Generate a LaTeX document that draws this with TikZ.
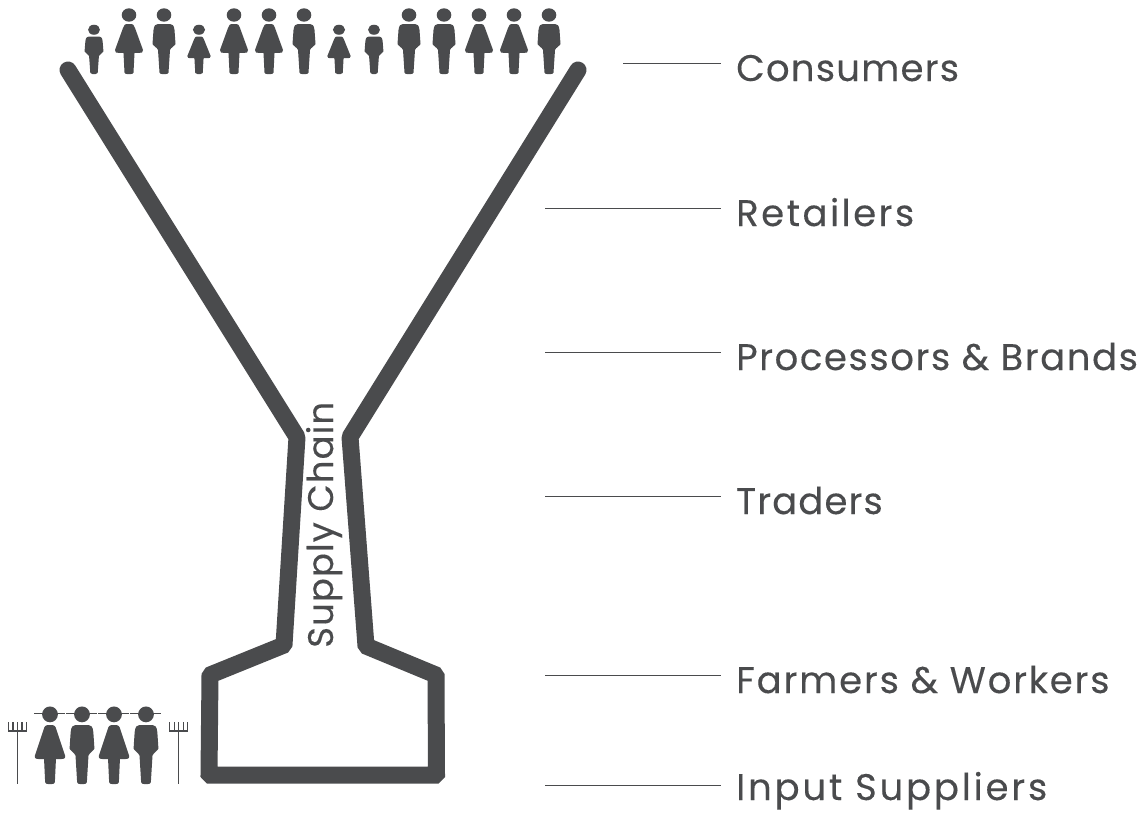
\documentclass[tikz,border=0pt]{standalone}
\usepackage{fontspec}
\setmainfont[FakeBold=0.25]{Poppins}
\newcommand{\spaced}[1]{\addfontfeature{LetterSpace=#1}}
\definecolor{ink}{HTML}{4A4B4D}
\tikzset{
  funnel/.style={draw=ink,line width=17pt,line cap=round,line join=miter,miter limit=10,rounded corners=1.5pt},
  leader/.style={draw=ink,line width=0.9pt},
  stage/.style={anchor=base west,inner sep=0pt,text=ink,font=\fontsize{37}{44}\selectfont},
  fig/.style={fill=ink},
  forkline/.style={draw=ink,line width=1.4pt},
}
\newcommand{\manshape}[4]{\fill[fig,shift={(#1,#2)},xscale=#3,yscale=#4]
  (0,-59) ellipse [x radius=7.3,y radius=6.7]
  (-4.5,-1.5) -- (-6,-24) .. controls (-6.5,-26) and (-10.5,-28) .. (-11.5,-30) -- (-10.5,-44) .. controls (-10,-49) and (-8,-50) .. (-6,-50) -- (6,-50) .. controls (8,-50) and (10,-49) .. (10.5,-44) -- (11.5,-30) .. controls (10.5,-28) and (6.5,-26) .. (6,-24) -- (4.5,-1.5) .. controls (4.3,-0.3) and (3,0) .. (2,0) -- (-2,0) .. controls (-3,0) and (-4.3,-0.3) .. (-4.5,-1.5) -- cycle;}
\newcommand{\womanshape}[4]{\fill[fig,shift={(#1,#2)},xscale=#3,yscale=#4]
  (0,-59) ellipse [x radius=7.3,y radius=6.7]
  (-4.5,-1.5) -- (-5.5,-21) .. controls (-9,-21) and (-11,-21) .. (-13,-21.5) .. controls (-14,-22) and (-14.2,-23) .. (-14,-24) -- (-6,-46) .. controls (-5,-49) and (-4,-50) .. (-2.5,-50) -- (2.5,-50) .. controls (4,-50) and (5,-49) .. (6,-46) -- (14,-24) .. controls (14.2,-23) and (14,-22) .. (13,-21.5) .. controls (11,-21) and (9,-21) .. (5.5,-21) -- (4.5,-1.5) .. controls (4.3,-0.3) and (3,0) .. (2,0) -- (-2,0) .. controls (-3,0) and (-4.3,-0.3) .. (-4.5,-1.5) -- cycle;}
\newcommand{\forkshape}[1]{\begin{scope}[shift={(#1,0)}]
  \draw[forkline] (0,731) -- (0,784);
  \draw[forkline,line width=1.1pt] (-9.5,731) -- (9.5,731);
  \foreach \t in {-9,-4.5,0,4.5,9} \draw[forkline,line width=1.1pt] (\t,722) -- (\t,731);
  \end{scope}}
\begin{document}
\begin{tikzpicture}[x=1pt,y=-1pt]
\useasboundingbox (0,0) rectangle (1145,812);
% funnel
\coordinate (tl) at (68,70);
\coordinate (nl) at (297,437);
\coordinate (sl) at (284,645);
\coordinate (cl) at (210,675);
\coordinate (bl) at (209,775);
\coordinate (br) at (436.5,775);
\coordinate (cr) at (436,675);
\coordinate (sr) at (366,646);
\coordinate (nr) at (350,437);
\coordinate (tr) at (578,70);
\draw[funnel] (tl) -- (nl) -- (sl) -- (cl) -- (bl) -- (br) -- (cr) -- (sr) -- (nr) -- (tr);
% consumers
\manshape{94}{74}{0.82}{0.75}
\womanshape{129}{74}{1}{1}
\manshape{164}{74}{1}{1}
\womanshape{199}{74}{0.83}{0.75}
\womanshape{234}{74}{1}{1}
\womanshape{269}{74}{1}{1}
\manshape{304}{74}{1}{1}
\womanshape{339}{74}{0.83}{0.75}
\manshape{374}{74}{0.82}{0.75}
\manshape{409}{74}{1}{1}
\manshape{444}{74}{1}{1}
\womanshape{479}{74}{1}{1}
\womanshape{514}{74}{1}{1}
\manshape{549}{74}{1}{1}
% farmers
\womanshape{50}{784}{1.08}{1.18}
\manshape{82}{784}{1.08}{1.18}
\womanshape{114}{784}{1.08}{1.18}
\manshape{146}{784}{1.08}{1.18}
\foreach \h in {50,82,114,146} \draw[ink,line width=1pt] (\h-16,713) -- (\h+15,713);
\forkshape{17.5}
\forkshape{178.7}
% labels
\node[stage] (consumers) at (736,81) {\spaced{3.3}Consumers};
\node[stage] (retailers) at (736,226) {\spaced{6.7}Retailers};
\node[stage] (processors) at (736,370) {\spaced{4.3}Processors \& Brands};
\node[stage] (traders) at (736,514) {\spaced{3}Traders};
\node[stage] (farmers) at (736,693) {\spaced{5}Farmers \& Workers};
\node[stage] (input) at (736,800) {\spaced{7.6}Input Suppliers};
\node[stage,rotate=90,font=\fontsize{35.5}{42}\selectfont] (chain) at (333,648) {\spaced{3}Supply Chain};
% leaders
\foreach \a/\ax/\y in {a/623/63,b/545/208,c/545/352,d/545/496,e/545/675,f/545/785}{
  \coordinate (\a s) at (\ax,\y);
  \coordinate (\a e) at (721,\y);
  \draw[leader] (\a s) -- (\a e);
}
\end{tikzpicture}
\end{document}
